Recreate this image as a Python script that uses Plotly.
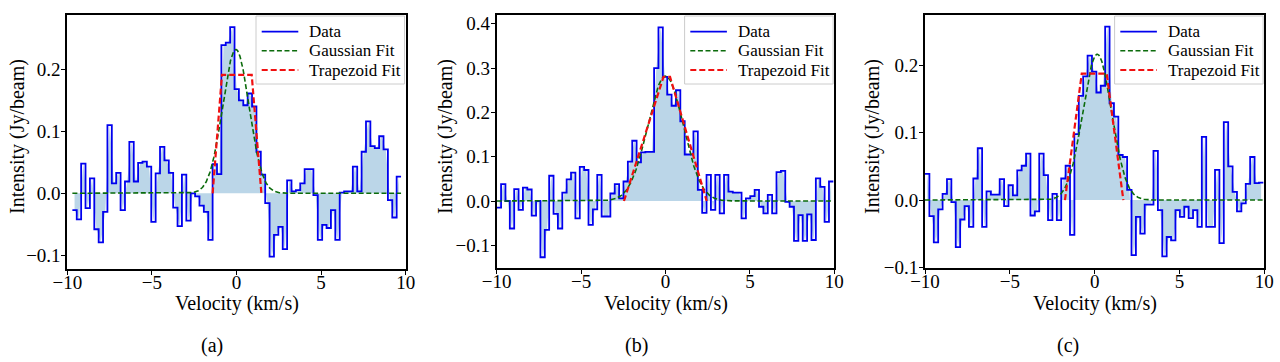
import numpy as np
import plotly.graph_objects as go

# ---------------- data ----------------
channel_width = 0.259  # km/s

a_first_edge = -9.70
a_values = [-0.027, -0.042, 0.048, -0.024, 0.024, -0.058, -0.079, -0.030, 0.110, 0.016,
            0.033, -0.027, 0.019, 0.083, 0.019, 0.049, 0.051, 0.043, -0.046, 0.032,
            0.075, 0.053, 0.033, -0.023, -0.053, 0.030, -0.044, 0.000, -0.005, -0.020,
            -0.030, -0.075, 0.047, 0.031, 0.239, 0.243, 0.268,
            0.168, 0.150, 0.142, 0.161, 0.140, 0.067, 0.030, -0.016, -0.102, -0.067,
            -0.054, -0.090, 0.021, 0.003, 0.005, 0.016, 0.039, 0.039, -0.003, -0.075,
            -0.051, -0.056, -0.027, -0.075, 0.001, 0.003, 0.003, 0.043, 0.003, 0.067,
            0.116, 0.076, 0.073, 0.092, 0.071, -0.011, -0.039, 0.027]

b_first_edge = -10.0
b_values = [-0.015, 0.038, 0.000, -0.062, 0.027, -0.020, 0.030, 0.026, -0.033, 0.000,
            -0.127, -0.065, 0.057, -0.029, -0.062, 0.019, 0.049, 0.064, -0.039, 0.077,
            0.070, -0.054, -0.019, 0.059, -0.035, -0.035, 0.017, 0.038, 0.006, 0.044,
            0.089, 0.136, 0.087, 0.110, 0.111, 0.111, 0.300, 0.392,
            0.280, 0.240, 0.215, 0.250, 0.180, 0.105, 0.105, 0.157, 0.025, -0.027,
            0.059, -0.020, 0.059, -0.028, 0.059, 0.021, 0.019, 0.019, -0.039, 0.006,
            0.011, 0.025, -0.013, -0.028, 0.014, -0.028, 0.065, 0.068, -0.002, -0.013,
            -0.090, -0.032, -0.090, -0.030, -0.088, 0.051, 0.032, -0.047, 0.044]

c_first_edge = -10.0
c_values = [0.039, -0.024, -0.063, -0.014, 0.009, 0.031, -0.003, -0.070, -0.029, -0.009,
            -0.040, 0.032, 0.077, -0.040, 0.013, 0.008, 0.008, 0.031, -0.009, 0.022,
            0.007, 0.044, 0.051, 0.069, -0.023, -0.017, 0.069, 0.037, -0.030, 0.009,
            -0.030, 0.032, 0.051, -0.052, 0.098, 0.155, 0.184, 0.215, 0.191, 0.160,
            0.170, 0.258, 0.144, 0.124, 0.067, 0.064, 0.015, -0.082, -0.025, -0.050,
            -0.007, -0.007, 0.073, -0.015, -0.084, -0.055, -0.060, -0.015, -0.025, -0.010,
            -0.027, -0.015, -0.040, 0.094, -0.040, -0.040, 0.045, -0.064, 0.116, 0.050,
            0.012, -0.017, -0.005, 0.024, 0.064, 0.025, 0.026]

# Gaussian fit parameters: amplitude, centre, sigma
a_gauss = (0.232, -0.04, 0.78)
b_gauss = (0.282, 0.00, 1.05)
c_gauss = (0.217, 0.15, 0.85)

# Trapezoid fit vertices
a_trap_v = [-1.41, -0.86, 0.90, 1.47]
a_trap_y = [0.0, 0.191, 0.191, 0.0]
b_trap_v = [-2.46, -0.12, 0.27, 2.44]
b_trap_y = [0.0, 0.280, 0.280, 0.0]
c_trap_v = [-1.75, -0.76, 0.71, 1.69]
c_trap_y = [0.0, 0.188, 0.188, 0.0]

y_ticks_a = [-0.1, 0.0, 0.1, 0.2]
y_ticks_b = [-0.1, 0.0, 0.1, 0.2, 0.3, 0.4]
y_ticks_c = [-0.1, 0.0, 0.1, 0.2]
x_ticks = [-10, -5, 0, 5, 10]
panel_labels = ["(a)", "(b)", "(c)"]
legend_names = ["Data", "Gaussian Fit", "Trapezoid Fit"]

# ---------------- figure ----------------
W, H = 1280, 362
FONT = "Liberation Serif"
BLUE, GREEN, RED = "#0000ee", "#0b6b0b", "#f01010"
STYLES = [dict(color=BLUE, width=1.8),
          dict(color=GREEN, width=1.6, dash="5px,2.6px"),
          dict(color=RED, width=2.2, dash="6px,3px")]
fig = go.Figure()

panels = [
    dict(first=a_first_edge, vals=a_values, g=a_gauss, tv=a_trap_v, ty=a_trap_y,
         yt=y_ticks_a, yr=[-0.1221, 0.2876], xd=[67.3, 405.7], yd=[269.0, 15.0],
         ytx=17, subx=212),
    dict(first=b_first_edge, vals=b_values, g=b_gauss, tv=b_trap_v, ty=b_trap_y,
         yt=y_ticks_b, yr=[-0.1519, 0.4199], xd=[496.7, 834.3], yd=[268.3, 15.0],
         ytx=445, subx=636),
    dict(first=c_first_edge, vals=c_values, g=c_gauss, tv=c_trap_v, ty=c_trap_y,
         yt=y_ticks_c, yr=[-0.1016, 0.2753], xd=[925.0, 1264.3], yd=[268.3, 15.0],
         ytx=872, subx=1068),
]

annotations = []
shapes = []
for i, p in enumerate(panels):
    n = len(p["vals"])
    edges = p["first"] + channel_width * np.arange(n + 1)
    centers = p["first"] + channel_width * (np.arange(n) + 0.5)
    vals = np.array(p["vals"])
    xa = "x" if i == 0 else f"x{i+1}"
    ya = "y" if i == 0 else f"y{i+1}"

    # fill
    fig.add_trace(go.Scatter(x=centers, y=vals, mode="none", fill="tozeroy",
                             fillcolor="rgba(31,119,180,0.30)", showlegend=False,
                             hoverinfo="skip", xaxis=xa, yaxis=ya))
    # step data
    fig.add_trace(go.Scatter(x=edges, y=np.append(vals, vals[-1]), mode="lines",
                             line=dict(STYLES[0], shape="hv"), showlegend=False,
                             name=legend_names[0], xaxis=xa, yaxis=ya))
    # gaussian
    amp, mu, sig = p["g"]
    vg = np.linspace(edges[0], edges[-1], 800)
    fig.add_trace(go.Scatter(x=vg, y=amp * np.exp(-0.5 * ((vg - mu) / sig) ** 2),
                             mode="lines", line=STYLES[1], showlegend=False,
                             name=legend_names[1], xaxis=xa, yaxis=ya))
    # trapezoid
    fig.add_trace(go.Scatter(x=p["tv"], y=p["ty"], mode="lines", line=STYLES[2],
                             showlegend=False, name=legend_names[2],
                             xaxis=xa, yaxis=ya))

    axcommon = dict(showline=True, linecolor="black", linewidth=1.8, mirror=True,
                    ticks="outside", ticklen=4, tickwidth=1.3, tickcolor="black",
                    showgrid=False, zeroline=False, automargin=False,
                    tickfont=dict(family=FONT, size=19, color="black"))
    xkey = "xaxis" if i == 0 else f"xaxis{i+1}"
    ykey = "yaxis" if i == 0 else f"yaxis{i+1}"
    fig.layout[xkey] = dict(domain=[p["xd"][0] / W, p["xd"][1] / W], range=[-10, 10],
                            tickvals=x_ticks, anchor=ya, ticklabelstandoff=-9,
                            **axcommon)
    fig.layout[ykey] = dict(domain=[1 - p["yd"][0] / H, 1 - p["yd"][1] / H],
                            range=p["yr"], tickvals=p["yt"], tickformat=".1f",
                            anchor=xa, ticklabelstandoff=-3, **axcommon)

    # legend box (upper right, matplotlib style)
    xr = p["xd"][1]
    shapes.append(dict(type="rect", xref="paper", yref="paper",
                       x0=(xr - 149.7) / W, x1=(xr - 1.2) / W,
                       y0=1 - 84 / H, y1=1 - 16 / H,
                       fillcolor="rgba(255,255,255,0.8)",
                       line=dict(color="#cccccc", width=1), layer="above"))
    for k, yy in enumerate([31.7, 50.7, 70.0]):
        shapes.append(dict(type="line", xref="paper", yref="paper",
                           x0=(xr - 144) / W, x1=(xr - 107.4) / W,
                           y0=1 - yy / H, y1=1 - yy / H,
                           line=STYLES[k], layer="above"))
        annotations.append(dict(text=legend_names[k], x=(xr - 98.4) / W, y=1 - yy / H,
                                xref="paper", yref="paper", showarrow=False,
                                xanchor="left", yanchor="middle",
                                font=dict(family=FONT, size=17, color="black")))

    xc = (p["xd"][0] + p["xd"][1]) / 2
    annotations.append(dict(text="Velocity (km/s)", x=xc / W, y=1 - 303.5 / H,
                            xref="paper", yref="paper", showarrow=False,
                            xanchor="center", yanchor="middle",
                            font=dict(family=FONT, size=20, color="black")))
    annotations.append(dict(text="Intensity (Jy/beam)", x=p["ytx"] / W, y=1 - 137 / H,
                            xref="paper", yref="paper", showarrow=False, textangle=-90,
                            xanchor="center", yanchor="middle",
                            font=dict(family=FONT, size=20, color="black")))
    annotations.append(dict(text=panel_labels[i], x=p["subx"] / W, y=1 - 345 / H,
                            xref="paper", yref="paper", showarrow=False,
                            xanchor="center", yanchor="middle",
                            font=dict(family=FONT, size=20, color="black")))

fig.update_layout(width=W, height=H, margin=dict(l=0, r=0, t=0, b=0, autoexpand=False),
                  paper_bgcolor="white", plot_bgcolor="white",
                  font=dict(family=FONT),
                  annotations=annotations, shapes=shapes, showlegend=False)

fig.write_html("out.html", config={"displayModeBar": False},
               post_script="document.body.style.margin='0';document.body.style.padding='0';"
                           "document.body.style.overflow='hidden';")
